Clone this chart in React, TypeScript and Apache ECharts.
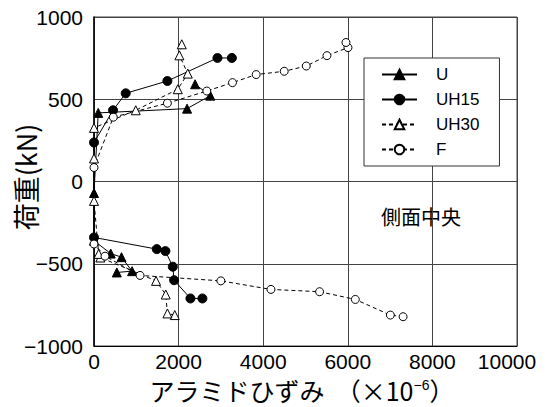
import React, { useEffect, useRef } from 'react';
import * as echarts from 'echarts';

// strain (×10^-6) and load (kN), ordered along each curve (negative branch end → origin → positive branch end)
const uStrain = [540, 900, 650, 395, 0, 0, 100, 2200, 2750, 2390];
const uLoad = [-553, -545, -460, -438, -360, -70, 417, 443, 522, 591];

const uh15Strain = [2563, 2280, 1894, 1863, 1688, 1484, 0, 0, 450, 750, 1735, 2919, 3259];
const uh15Load = [-711, -711, -600, -518, -423, -411, -340, 237, 433, 536, 611, 751, 751];

const uh30Strain = [1909, 1736, 1696, 1467, 150, 110, 0, 0, 0, 987, 1981, 2217, 2019, 2075];
const uh30Load = [-812, -802, -687, -604, -462, -440, -118, 140, 326, 433, 561, 656, 767, 834];

const fStrain = [7307, 7006, 6178, 5333, 4183, 2999, 1089, 260, 0, 0, 457, 1735, 2667, 3274, 3834, 4497, 5018, 5507, 6004, 5957];
const fLoad = [-822, -812, -717, -670, -656, -604, -571, -454, -380, 85, 391, 476, 550, 601, 650, 670, 702, 765, 814, 845];

const seriesNames = ['U', 'UH15', 'UH30', 'F'];
const xTickValues = [0, 2000, 4000, 6000, 8000, 10000];
const annotation = '側面中央';
const xName = 'アラミドひずみ  （×10';
const xNameSup = '−6';
const yName = '荷重(kN)';

const NUM_FONT = '"Liberation Sans", Arial, sans-serif';
const JP_FONT = '"Noto Sans CJK JP", "Noto Sans", sans-serif';

const zip = (xs: number[], ys: number[]) => xs.map((x, i) => [x, ys[i]]);

const mk = (name: string, data: number[][], symbol: string, filled: boolean, dashed: boolean, size: number) => ({
  name,
  type: 'line',
  data,
  symbol,
  symbolSize: size,
  showSymbol: true,
  itemStyle: filled
    ? { color: '#000', borderColor: '#000', borderWidth: 1 }
    : { color: '#fff', borderColor: '#000', borderWidth: 1 },
  lineStyle: { color: '#000', width: 1, type: dashed ? [4, 3] : 'solid' },
  emphasis: { disabled: true },
});

export default function App() {
  const ref = useRef<HTMLDivElement>(null);
  useEffect(() => {
    document.body.style.margin = '0';
    if (!ref.current) return;
    const chart = echarts.init(ref.current, undefined, { renderer: 'svg' });
    chart.setOption({
      animation: false,
      backgroundColor: '#fff',
      grid: {
        left: 94, right: 33, top: 17, bottom: 61,
        outerBoundsMode: 'none', containLabel: false,
        show: true, borderColor: '#444', borderWidth: 1,
      },
      legend: {
        data: seriesNames,
        orient: 'vertical',
        left: 364,
        top: 58,
        itemWidth: 35,
        itemHeight: 12,
        itemGap: 8,
        padding: [8, 20, 8, 17],
        borderColor: '#333',
        borderWidth: 1,
        backgroundColor: '#fff',
        textStyle: { fontSize: 17, fontFamily: NUM_FONT, color: '#000', padding: [0, 0, 0, 14] },
      },
      xAxis: {
        type: 'value',
        min: 0,
        max: 10000,
        interval: 2000,
        axisLine: { show: true, onZero: false, lineStyle: { color: '#000', width: 1 } },
        axisTick: { show: false },
        splitLine: { show: true, lineStyle: { color: '#444', width: 1 } },
        axisLabel: {
          margin: 5,
          color: '#000',
          fontSize: 21,
          fontFamily: NUM_FONT,
          customValues: xTickValues,
          formatter: (v: number) => (v === 10000 ? `{e|${v}}` : `{d|${v}}`),
          rich: {
            d: { fontSize: 21, fontFamily: NUM_FONT, color: '#000' },
            e: { fontSize: 21, fontFamily: NUM_FONT, color: '#000', padding: [0, 20, 0, 0] },
          },
        },
      },
      yAxis: {
        type: 'value',
        min: -1000,
        max: 1000,
        interval: 500,
        axisLine: { show: true, onZero: false, lineStyle: { color: '#000', width: 1.5 } },
        axisTick: { show: false },
        splitLine: { show: true, lineStyle: { color: '#444', width: 1 } },
        axisLabel: {
          margin: 11,
          color: '#000',
          fontSize: 21,
          fontFamily: NUM_FONT,
          formatter: (v: number) => String(v).replace('-', '−'),
        },
      },
      graphic: [
        {
          type: 'text',
          x: 421,
          y: 216,
          style: {
            text: annotation,
            fontSize: 20,
            fontFamily: JP_FONT,
            fill: '#000',
            align: 'center',
            verticalAlign: 'middle',
          },
        },
        {
          type: 'text',
          x: 302,
          y: 390,
          style: {
            text: `{n|${xName}}{s|${xNameSup}}{n|）}`,
            fontSize: 25,
            fontFamily: JP_FONT,
            fill: '#000',
            align: 'center',
            verticalAlign: 'middle',
            rich: {
              n: { fontSize: 25, fontFamily: JP_FONT, fill: '#000' },
              s: { fontSize: 14, fontFamily: NUM_FONT, fill: '#000', verticalAlign: 'top' },
            },
          },
        },
        {
          type: 'text',
          x: 25,
          y: 177,
          rotation: Math.PI / 2,
          style: {
            text: yName,
            fontSize: 27,
            fontFamily: JP_FONT,
            fill: '#000',
            align: 'center',
            verticalAlign: 'middle',
          },
        },
      ],
      series: [
        mk('U', zip(uStrain, uLoad), 'triangle', true, false, 9),
        mk('UH15', zip(uh15Strain, uh15Load), 'circle', true, false, 9),
        mk('UH30', zip(uh30Strain, uh30Load), 'triangle', false, true, 9),
        mk('F', zip(fStrain, fLoad), 'circle', false, true, 8),
      ],
    });
    return () => chart.dispose();
  }, []);
  return <div ref={ref} style={{ width: 550, height: 407 }} />;
}
